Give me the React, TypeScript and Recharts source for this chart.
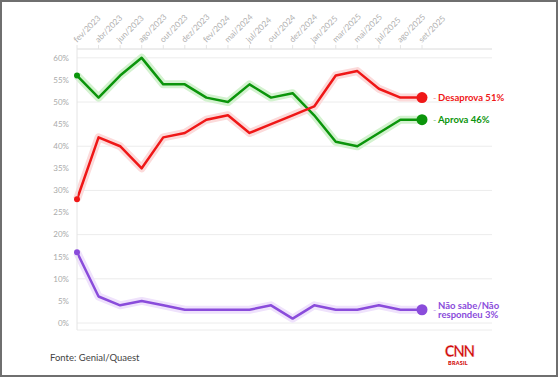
import React from 'react';
import { LineChart, Line, XAxis, YAxis, CartesianGrid } from 'recharts';

const MONTHS = [
  'fev/2023', 'abr/2023', 'jun/2023', 'ago/2023', 'out/2023', 'dez/2023',
  'fev/2024', 'mai/2024', 'jul/2024', 'out/2024', 'dez/2024',
  'jan/2025', 'mar/2025', 'mai/2025', 'jul/2025', 'ago/2025', 'set/2025',
];
const APROVA = [56, 51, 56, 60, 54, 54, 51, 50, 54, 51, 52, 47, 41, 40, 43, 46, 46];
const DESAPROVA = [28, 42, 40, 35, 42, 43, 46, 47, 43, 45, 47, 49, 56, 57, 53, 51, 51];
const NAO_SABE = [16, 6, 4, 5, 4, 3, 3, 3, 3, 4, 1, 4, 3, 3, 4, 3, 3];
const Y_TICKS = [0, 5, 10, 15, 20, 25, 30, 35, 40, 45, 50, 55, 60];

const FONT = 'Lato, "Open Sans", sans-serif';

interface SeriesConfig {
  key: 'desaprova' | 'aprova' | 'naoSabe';
  color: string;
  glow: string;
  label: string[];
}

const SERIES: SeriesConfig[] = [
  { key: 'aprova',    color: '#0b950b', glow: '#d3f2cf', label: ['Aprova 46%'] },
  { key: 'naoSabe',   color: '#8a4cdb', glow: '#efe2fc', label: ['Não sabe/Não', 'respondeu 3%'] },
  { key: 'desaprova', color: '#ef1717', glow: '#fcdada', label: ['Desaprova 51%'] },
];

const data = MONTHS.map((m, i) => ({
  month: m,
  aprova: APROVA[i],
  desaprova: DESAPROVA[i],
  naoSabe: NAO_SABE[i],
}));

const XTick = ({ x, y, payload }: any) => (
  <text
    x={x}
    y={y}
    transform={`rotate(-45 ${x} ${y})`}
    textAnchor="start"
    fontSize={8.3}
    fontFamily={FONT}
    fill="#b0b0b0"
  >
    {payload.value}
  </text>
);

function makeDot(cfg: SeriesConfig) {
  return (props: any) => {
    const { cx, cy, index } = props;
    if (index === 0) {
      return <circle key={`d-${cfg.key}-${index}`} cx={cx} cy={cy} r={3} fill={cfg.color} />;
    }
    if (index === MONTHS.length - 1) {
      const single = cfg.label.length === 1;
      return (
        <g key={`d-${cfg.key}-${index}`}>
          <circle cx={cx} cy={cy} r={5.5} fill={cfg.color} />
          <text x={cx + 11} y={cy + 3} fontSize={9} fontFamily={FONT} fill={cfg.color} opacity={0.5}>-</text>
          {single ? (
            <text x={cx + 16} y={cy + 3.5} fontSize={9.5} fontWeight={700} fontFamily={FONT} fill={cfg.color}>
              {cfg.label[0]}
            </text>
          ) : (
            <text fontSize={9.5} fontWeight={700} fontFamily={FONT} fill={cfg.color}>
              <tspan x={cx + 16} y={cy - 1}>{cfg.label[0]}</tspan>
              <tspan x={cx + 16} y={cy + 8.5}>{cfg.label[1]}</tspan>
            </text>
          )}
        </g>
      );
    }
    return <g key={`d-${cfg.key}-${index}`} />;
  };
}

export default function App() {
  return (
    <div style={{ position: 'absolute', left: 0, top: 0, width: 560, height: 379, background: '#fff' }}>
      <div
        style={{
          position: 'absolute', left: 0, top: 0, width: 558, height: 377,
          border: '2px solid #6f6f6f', boxSizing: 'border-box',
        }}
      />
      <div style={{ position: 'absolute', left: 0, top: 0 }}>
        <LineChart width={560} height={379} data={data} margin={{ top: 19, right: 68, bottom: 49, left: 37 }}>
          <CartesianGrid horizontal vertical={false} stroke="#ececec" strokeWidth={1} />
          <XAxis
            dataKey="month"
            orientation="top"
            height={30}
            interval={0}
            tick={<XTick />}
            tickSize={4}
            axisLine={{ stroke: '#e4e4e4' }}
            tickLine={{ stroke: '#e4e4e4' }}
            padding={{ left: 0, right: 70 }}
          />
          <YAxis
            width={40}
            domain={[0, 62]}
            ticks={Y_TICKS}
            padding={{ top: 0, bottom: 7 }}
            tickFormatter={(v: number) => `${v}%`}
            tick={{ fontSize: 8, fill: '#aaaaaa', fontFamily: FONT }}
            tickLine={false}
            axisLine={{ stroke: '#e4e4e4' }}
          />
          {SERIES.map(s => (
            <Line
              key={`glow-${s.key}`}
              dataKey={s.key}
              type="linear"
              stroke={s.glow}
              strokeWidth={8}
              strokeLinejoin="round"
              dot={false}
              activeDot={false}
              isAnimationActive={false}
            />
          ))}
          {SERIES.map(s => (
            <Line
              key={`line-${s.key}`}
              dataKey={s.key}
              type="linear"
              stroke={s.color}
              strokeWidth={2.5}
              strokeLinejoin="round"
              dot={makeDot(s)}
              activeDot={false}
              isAnimationActive={false}
            />
          ))}
        </LineChart>
      </div>
      <div
        style={{
          position: 'absolute', left: 50, top: 352, fontFamily: FONT, fontSize: 9.5,
          color: '#444', whiteSpace: 'nowrap',
        }}
      >
        Fonte: Genial/Quaest
      </div>
      <div style={{ position: 'absolute', left: 443, top: 342, width: 30, textAlign: 'center', fontFamily: FONT }}>
        <div
          style={{
            fontSize: 17, fontWeight: 900, color: '#d10a0a', WebkitTextStroke: '0.4px #fff',
            letterSpacing: -1.5, lineHeight: '18px', transform: 'scaleX(0.88)',
          }}
        >
          CNN
        </div>
        <div style={{ fontSize: 5.5, fontWeight: 900, color: '#d10a0a', lineHeight: '7px', letterSpacing: 0.2 }}>
          BRASIL
        </div>
      </div>
    </div>
  );
}
